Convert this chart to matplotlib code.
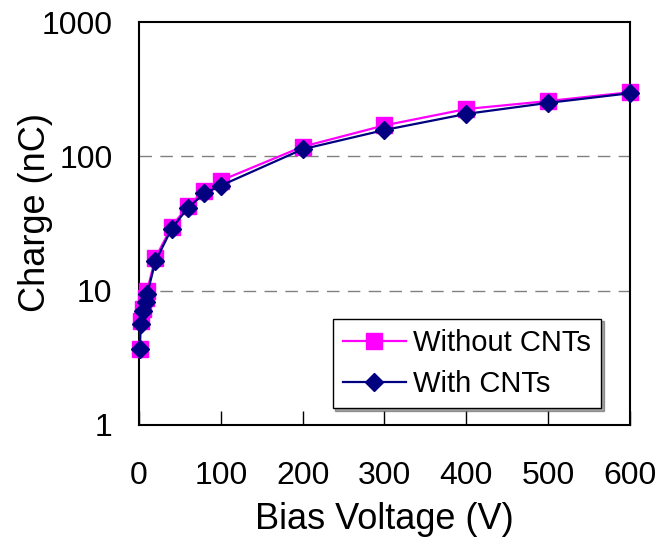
import matplotlib.pyplot as plt
from matplotlib.ticker import FixedLocator, FixedFormatter

plt.rcParams['font.family'] = ['Liberation Sans', 'DejaVu Sans']

# bias voltage (V)
voltage = [1, 2, 5, 8, 10, 20, 40, 60, 80, 100, 200, 300, 400, 500, 600]
# charge (nC)
without_cnts = [3.7, 5.9, 7.3, 8.8, 10.0, 17.5, 30, 43, 55, 66, 118, 170, 225, 258, 300]
with_cnts = [3.7, 5.6, 7.0, 8.2, 9.4, 16.5, 29, 41.5, 53, 60.5, 113, 157, 207, 250, 295]

yticks = [1, 10, 100, 1000]
ylabels = ["1", "10", "100", "1000"]
xticks = [0, 100, 200, 300, 400, 500, 600]

fig = plt.figure(figsize=(6.59, 5.42), dpi=100)
ax = fig.add_axes([0.2109, 0.2159, 0.745, 0.7435])

ax.plot(voltage, without_cnts, color="#ff00ff", lw=1.6, marker="s", ms=11,
        mec="#ff00ff", label="Without CNTs", zorder=3, clip_on=False)
ax.plot(voltage, with_cnts, color="#000080", lw=1.6, marker="D", ms=9.5,
        mec="#000080", label="With CNTs", zorder=4, clip_on=False)

ax.set_yscale("log")
ax.set_ylim(1, 1000)
ax.set_xlim(0, 600)
ax.yaxis.set_major_locator(FixedLocator(yticks))
ax.yaxis.set_major_formatter(FixedFormatter(ylabels))
ax.yaxis.set_minor_locator(FixedLocator([]))
ax.set_xticks(xticks)

for y in [10, 100]:
    ax.axhline(y, color="#808080", ls=(0, (9, 6)), lw=1, zorder=1)

ax.tick_params(axis="x", direction="in", length=10, width=1, labelsize=23, pad=26)
ax.tick_params(axis="y", length=0, labelsize=23, pad=19)
for s in ax.spines.values():
    s.set_linewidth(1.5)

ax.set_xlabel("Bias Voltage (V)", fontsize=26, labelpad=8)
ax.set_ylabel("Charge (nC)", fontsize=26)
ax.yaxis.set_label_coords(-0.175, 0.528)

leg = ax.legend(loc="lower right", bbox_to_anchor=(0.941, 0.042), borderaxespad=0,
                fontsize=21, fancybox=False, shadow=True, framealpha=1,
                edgecolor="black", handlelength=2.15, handletextpad=0.25,
                borderpad=0.35, labelspacing=0.45)
leg.get_frame().set_linewidth(1)

fig.savefig("out.png", dpi=100)
